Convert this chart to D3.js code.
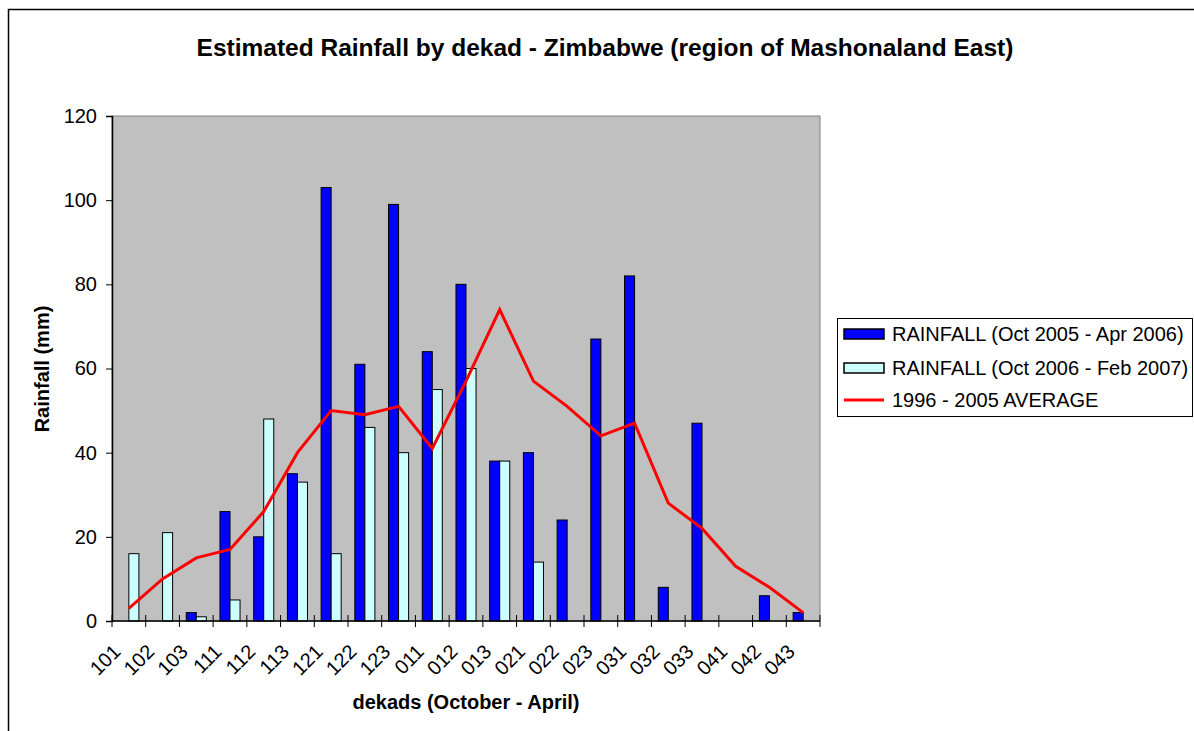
<!DOCTYPE html>
<html>
<head>
<meta charset="utf-8">
<script src="https://cdn.jsdelivr.net/npm/d3@7"></script>
<style>
    body { margin: 0; background: #fff; }
    text { font-family: "Liberation Sans", Arial, sans-serif; }
</style>
</head>
<body>
<div id="chart"></div>
<script>
"use strict"

// dekads, October to April
const dekads = ["101", "102", "103", "111", "112", "113", "121", "122", "123",
    "011", "012", "013", "021", "022", "023", "031", "032", "033", "041", "042", "043"];

// rainfall Oct 2005 - Apr 2006 (mm)
const rain0506 = [0, 0, 2, 26, 20, 35, 103, 61, 99, 64, 80, 38, 40, 24, 67, 82, 8, 47, 0, 6, 2];

// rainfall Oct 2006 - Feb 2007 (mm), no data after 021
const rain0607 = [16, 21, 1, 5, 48, 33, 16, 46, 40, 55, 60, 38, 14, null, null, null, null, null, null, null, null];

// 1996 - 2005 average
const avg9605 = [3, 10, 15, 17, 26, 40, 50, 49, 51, 41, 57, 74, 57, 51, 44, 47, 28, 22, 13, 8, 2];

const yTicks = [0, 20, 40, 60, 80, 100, 120];

const seriesNames = ["RAINFALL (Oct 2005 - Apr 2006)", "RAINFALL (Oct 2006 - Feb 2007)", "1996 - 2005 AVERAGE"];
const barColors = ["#0000ff", "#ccffff"];

let width = 1194, height = 731;
let plot = { left: 112, right: 820, top: 116, bottom: 621 };

let svg = d3.select("#chart").append("svg")
    .attr("width", width)
    .attr("height", height);

// outer chart frame (only top and left edges are visible)
svg.append("path")
    .attr("d", "M8.5," + height + " V9.5 H" + width)
    .attr("fill", "none")
    .attr("stroke", "#000")
    .attr("stroke-width", 1.5);

svg.append("text")
    .attr("x", 605)
    .attr("y", 56)
    .attr("text-anchor", "middle")
    .style("font-size", "24.5px")
    .style("font-weight", "bold")
    .text("Estimated Rainfall by dekad - Zimbabwe (region of Mashonaland East)");

let x0 = d3.scaleBand()
    .domain(dekads)
    .range([plot.left, plot.right])
    .paddingInner(0)
    .paddingOuter(0);

let x1 = d3.scaleBand()
    .domain([0, 1])
    .range([0, x0.bandwidth()])
    .paddingInner(0)
    .paddingOuter(0.68);

let y = d3.scaleLinear()
    .domain([0, 120])
    .range([plot.bottom, plot.top]);

// plot area
svg.append("rect")
    .attr("x", plot.left)
    .attr("y", plot.top)
    .attr("width", plot.right - plot.left)
    .attr("height", plot.bottom - plot.top)
    .attr("fill", "#c0c0c0")
    .attr("stroke", "#808080")
    .attr("stroke-width", 1);

// bars
let barData = [];
dekads.forEach((d, i) => {
    [rain0506, rain0607].forEach((series, s) => {
        if (series[i] !== null && series[i] > 0) {
            barData.push({ dekad: d, s: s, value: series[i] });
        }
    });
});

svg.append("g").selectAll("rect")
    .data(barData)
    .enter().append("rect")
    .attr("x", d => x0(d.dekad) + x1(d.s))
    .attr("y", d => y(d.value))
    .attr("width", x1.bandwidth())
    .attr("height", d => y(0) - y(d.value))
    .attr("fill", d => barColors[d.s])
    .attr("stroke", "#000")
    .attr("stroke-width", 1);

// average line
let line = d3.line()
    .x((d, i) => x0(dekads[i]) + x0.bandwidth() / 2)
    .y(d => y(d));

svg.append("path")
    .datum(avg9605)
    .attr("d", line)
    .attr("fill", "none")
    .attr("stroke", "#ff0000")
    .attr("stroke-width", 3)
    .attr("stroke-linejoin", "miter");

// y axis
let yAxis = svg.append("g")
    .attr("transform", "translate(" + plot.left + ",0)")
    .call(d3.axisLeft(y).tickValues(yTicks).tickSize(6).tickPadding(9));

yAxis.select(".domain").attr("stroke", "#000").attr("stroke-width", 1.5);
yAxis.selectAll(".tick line").attr("stroke", "#000");
yAxis.selectAll(".tick text")
    .style("font-size", "20px")
    .style("font-family", "'Liberation Sans', Arial, sans-serif")
    .attr("fill", "#000");

// x axis, ticks crossing the axis at category boundaries
let xg = svg.append("g");
xg.append("line")
    .attr("x1", plot.left).attr("x2", plot.right)
    .attr("y1", plot.bottom).attr("y2", plot.bottom)
    .attr("stroke", "#000").attr("stroke-width", 1.5);

let boundaries = dekads.map(d => x0(d)).concat([plot.right]);
xg.selectAll(".xtick")
    .data(boundaries)
    .enter().append("line")
    .attr("class", "xtick")
    .attr("x1", d => d).attr("x2", d => d)
    .attr("y1", plot.bottom - 6).attr("y2", plot.bottom + 6)
    .attr("stroke", "#000");

xg.selectAll(".xlabel")
    .data(dekads)
    .enter().append("text")
    .attr("class", "xlabel")
    .attr("text-anchor", "end")
    .attr("transform", d => "translate(" + (x0(d) + x0.bandwidth() / 2 - 12) + "," + (plot.bottom + 27) + ") rotate(-45)")
    .attr("dy", "0.35em")
    .style("font-size", "20px")
    .text(d => d);

// axis titles
svg.append("text")
    .attr("x", 466)
    .attr("y", 709)
    .attr("text-anchor", "middle")
    .style("font-size", "20px")
    .style("font-weight", "bold")
    .text("dekads (October - April)");

svg.append("text")
    .attr("transform", "translate(49,369) rotate(-90)")
    .attr("text-anchor", "middle")
    .style("font-size", "20px")
    .style("font-weight", "bold")
    .text("Rainfall (mm)");

// legend
let legend = svg.append("g").attr("transform", "translate(837,318)");
legend.append("rect")
    .attr("x", 0.5).attr("y", 0.5)
    .attr("width", 355).attr("height", 98)
    .attr("fill", "#fff")
    .attr("stroke", "#000");

let rowY = [16, 50, 82];
seriesNames.forEach((name, i) => {
    if (i < 2) {
        legend.append("rect")
            .attr("x", 7).attr("y", rowY[i] - 5)
            .attr("width", 40).attr("height", 10)
            .attr("fill", barColors[i])
            .attr("stroke", "#000")
            .attr("stroke-width", 1.5);
    } else {
        legend.append("line")
            .attr("x1", 7).attr("x2", 47)
            .attr("y1", rowY[i]).attr("y2", rowY[i])
            .attr("stroke", "#ff0000")
            .attr("stroke-width", 3);
    }
    legend.append("text")
        .attr("x", 55)
        .attr("y", rowY[i])
        .attr("dy", "0.35em")
        .style("font-size", "20px")
        .text(name);
});
</script>
</body>
</html>
